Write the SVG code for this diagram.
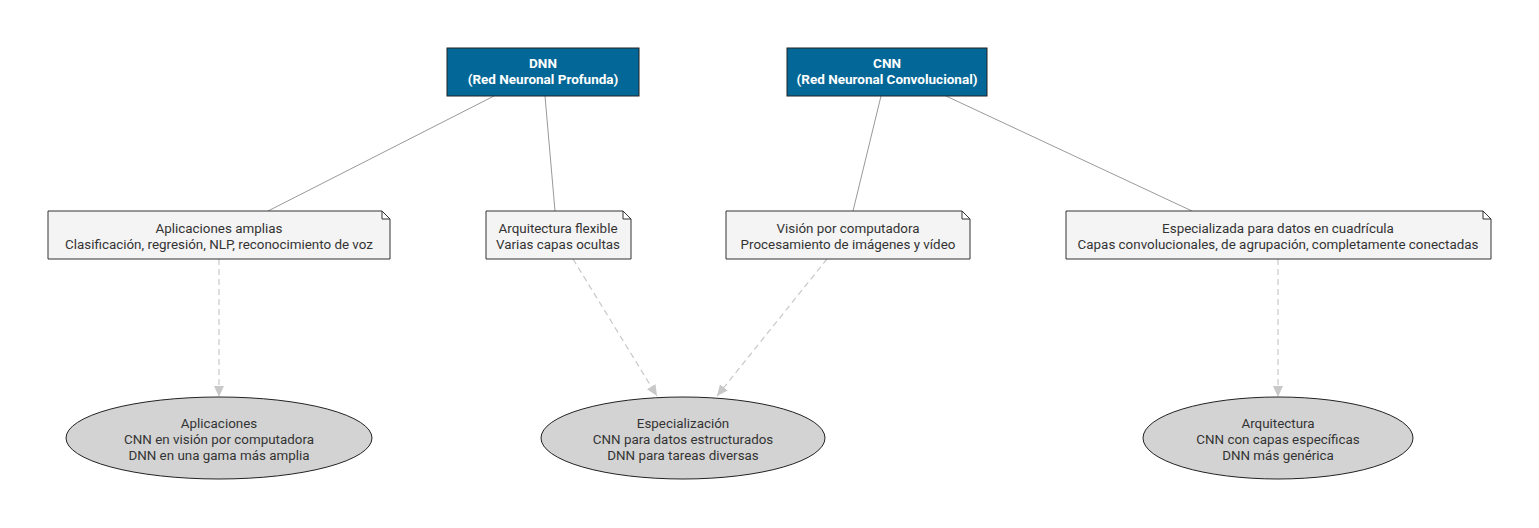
<svg xmlns="http://www.w3.org/2000/svg" width="1539" height="528" viewBox="0 0 1539 528">
<defs>
<style>
.box{fill:#036897;stroke:#222;stroke-width:1}
.bt{font-family:Roboto,"Liberation Sans",Arial,sans-serif;font-size:13.5px;font-weight:bold;fill:#fff;text-anchor:middle}
.note{fill:#f4f4f4;stroke:#333;stroke-width:1}
.t{font-family:Roboto,"Liberation Sans",Arial,sans-serif;font-size:13.4px;fill:#333;text-anchor:middle}
.ell{fill:#d3d3d3;stroke:#222;stroke-width:1}
.solid{stroke:#999;stroke-width:1;fill:none}
.dash{stroke:#c8c8c8;stroke-width:1.2;fill:none;stroke-dasharray:6,4;marker-end:url(#arr)}
</style>
<marker id="arr" markerWidth="12" markerHeight="12" viewBox="0 0 12 12" refX="11" refY="6" orient="auto" markerUnits="userSpaceOnUse">
<path d="M0,1 L11,6 L0,11 Z" fill="#c8c8c8"/>
</marker>
</defs>
<rect width="1539" height="528" fill="#fff"/>
<g id="connectors">
<line class="solid" x1="494" y1="96" x2="268" y2="211"/>
<line class="solid" x1="545" y1="96" x2="555" y2="211"/>
<line class="solid" x1="881" y1="96" x2="853" y2="211"/>
<line class="solid" x1="946" y1="96" x2="1192" y2="211"/>
<line class="dash" x1="219" y1="259" x2="219" y2="397"/>
<line class="dash" x1="573" y1="259" x2="657" y2="396"/>
<line class="dash" x1="827" y1="259" x2="717" y2="396"/>
<line class="dash" x1="1278" y1="259" x2="1278" y2="397"/>
</g>
<g id="dnn">
<rect class="box" x="447" y="48" width="192" height="48"/>
<text class="bt" x="543" y="67.5">DNN</text>
<text class="bt" x="543" y="83.5">(Red Neuronal Profunda)</text>
</g>
<g id="cnn">
<rect class="box" x="787" y="48" width="200" height="48"/>
<text class="bt" x="887" y="67.5">CNN</text>
<text class="bt" x="887" y="83.5">(Red Neuronal Convolucional)</text>
</g>
<g id="note1">
<path class="note" d="M48,211 H382 L390,219 V259 H48 Z M382,211 V219 H390"/>
<text class="t" x="219" y="232.5">Aplicaciones amplias</text>
<text class="t" x="219" y="248.5">Clasificación, regresión, NLP, reconocimiento de voz</text>
</g>
<g id="note2">
<path class="note" d="M486,211 H623 L631,219 V259 H486 Z M623,211 V219 H631"/>
<text class="t" x="558" y="232.5">Arquitectura flexible</text>
<text class="t" x="558" y="248.5">Varias capas ocultas</text>
</g>
<g id="note3">
<path class="note" d="M726,211 H962 L970,219 V259 H726 Z M962,211 V219 H970"/>
<text class="t" x="848" y="232.5">Visión por computadora</text>
<text class="t" x="848" y="248.5">Procesamiento de imágenes y vídeo</text>
</g>
<g id="note4">
<path class="note" d="M1066,211 H1483 L1491,219 V259 H1066 Z M1483,211 V219 H1491"/>
<text class="t" x="1278" y="232.5">Especializada para datos en cuadrícula</text>
<text class="t" x="1278" y="248.5">Capas convolucionales, de agrupación, completamente conectadas</text>
</g>
<g id="ell1">
<ellipse class="ell" cx="219" cy="438" rx="153" ry="41"/>
<text class="t" x="219" y="427.5">Aplicaciones</text>
<text class="t" x="219" y="443.5">CNN en visión por computadora</text>
<text class="t" x="219" y="459.5">DNN en una gama más amplia</text>
</g>
<g id="ell2">
<ellipse class="ell" cx="683" cy="438" rx="142" ry="41"/>
<text class="t" x="683" y="427.5">Especialización</text>
<text class="t" x="683" y="443.5">CNN para datos estructurados</text>
<text class="t" x="683" y="459.5">DNN para tareas diversas</text>
</g>
<g id="ell3">
<ellipse class="ell" cx="1278" cy="438" rx="135" ry="41"/>
<text class="t" x="1278" y="427.5">Arquitectura</text>
<text class="t" x="1278" y="443.5">CNN con capas específicas</text>
<text class="t" x="1278" y="459.5">DNN más genérica</text>
</g>
</svg>
